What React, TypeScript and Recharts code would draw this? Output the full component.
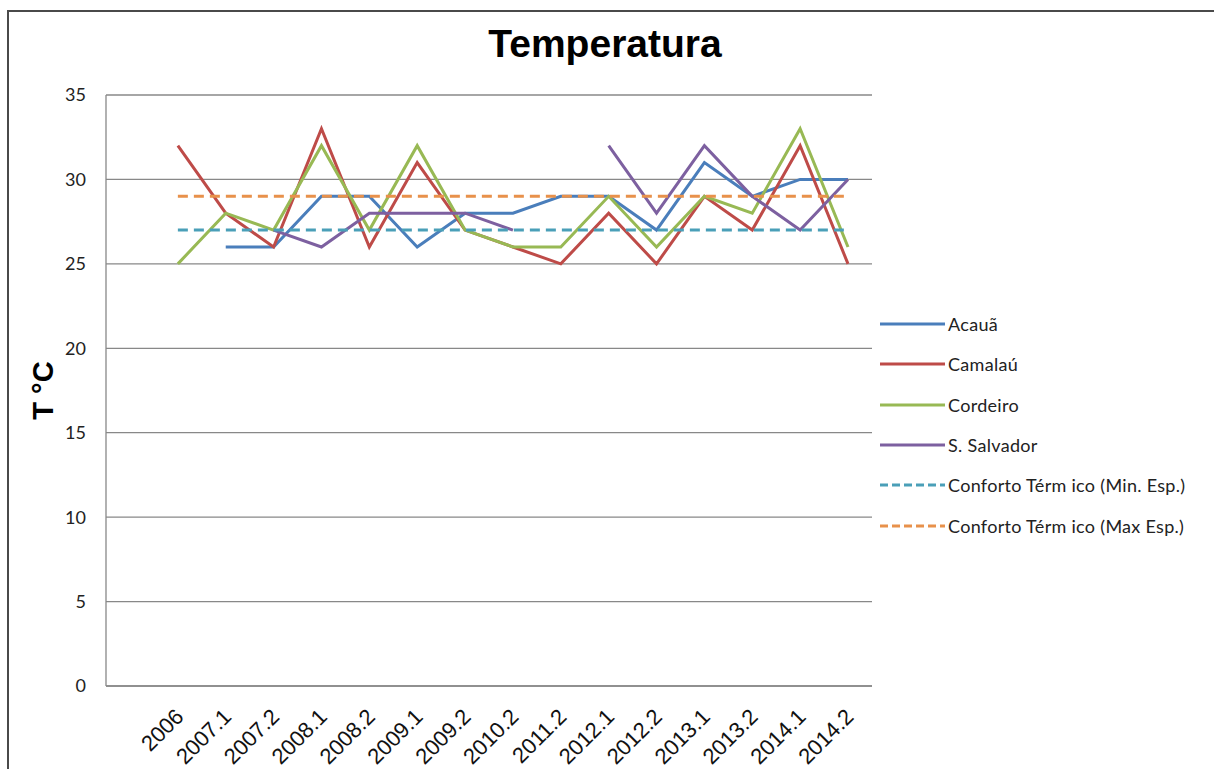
import { LineChart, Line, XAxis, YAxis, CartesianGrid } from 'recharts'

const categories = ['', '2006', '2007.1', '2007.2', '2008.1', '2008.2', '2009.1', '2009.2', '2010.2', '2011.2', '2012.1', '2012.2', '2013.1', '2013.2', '2014.1', '2014.2']
const acaua = [null, null, 26, 26, 29, 29, 26, 28, 28, 29, 29, 27, 31, 29, 30, 30]
const camalau = [null, 32, 28, 26, 33, 26, 31, 27, 26, 25, 28, 25, 29, 27, 32, 25]
const cordeiro = [null, 25, 28, 27, 32, 27, 32, 27, 26, 26, 29, 26, 29, 28, 33, 26]
const sSalvador = [null, null, null, 27, 26, 28, 28, 28, 27, null, 32, 28, 32, 29, 27, 30]
const confortoMin = [null, 27, 27, 27, 27, 27, 27, 27, 27, 27, 27, 27, 27, 27, 27, 27]
const confortoMax = [null, 29, 29, 29, 29, 29, 29, 29, 29, 29, 29, 29, 29, 29, 29, 29]
const yTicks = [0, 5, 10, 15, 20, 25, 30, 35]

const SERIES = [
  { key: 'acaua', name: 'Acauã', color: '#4A7EBB', dash: undefined },
  { key: 'camalau', name: 'Camalaú', color: '#BE4B48', dash: undefined },
  { key: 'cordeiro', name: 'Cordeiro', color: '#98B954', dash: undefined },
  { key: 'sSalvador', name: 'S. Salvador', color: '#7D60A0', dash: undefined },
  { key: 'confortoMin', name: 'Conforto Térm ico (Min. Esp.)', color: '#4A9FB8', dash: '10 6' },
  { key: 'confortoMax', name: 'Conforto Térm ico (Max Esp.)', color: '#E8914B', dash: '10 6' },
]

const data = categories.map((cat, i) => ({
  cat,
  acaua: acaua[i],
  camalau: camalau[i],
  cordeiro: cordeiro[i],
  sSalvador: sSalvador[i],
  confortoMin: confortoMin[i],
  confortoMax: confortoMax[i],
}))

const GRID = '#888888'

function XTick({ x, y, payload }: any) {
  const tx = x + 7
  const ty = y + 24
  return (
    <text
      x={tx}
      y={ty}
      transform={`rotate(-45, ${tx}, ${ty})`}
      textAnchor="end"
      fontFamily="'Liberation Sans', Arial, sans-serif"
      fontSize={22}
      fill="#111"
    >
      {payload.value}
    </text>
  )
}

function ChartLegend() {
  return (
    <div style={{ position: 'absolute', left: 878, top: 304, fontFamily: 'Lato, sans-serif', fontSize: 18, color: '#222' }}>
      {SERIES.map((s) => (
        <div key={s.key} style={{ display: 'flex', alignItems: 'center', height: 40.3 }}>
          <svg width={68} height={6} style={{ marginRight: 2 }}>
            <line x1={2} y1={3} x2={67} y2={3} stroke={s.color} strokeWidth={3} strokeDasharray={s.dash ? '8 4' : undefined} />
          </svg>
          <span style={{ letterSpacing: 0.3 }}>{s.name}</span>
        </div>
      ))}
    </div>
  )
}

export default function App() {
  return (
    <div style={{ position: 'absolute', left: 0, top: 0, width: 1214, height: 769, background: '#fff', overflow: 'hidden' }}>
      <div style={{ position: 'absolute', left: 7, top: 10, width: 1300, height: 900, border: '2px solid #4a4a4a' }} />
      <div
        style={{
          position: 'absolute',
          left: 0,
          width: 1214,
          top: 22,
          fontFamily: "'Liberation Sans', Arial, sans-serif",
          fontWeight: 'bold',
          fontSize: 39,
          color: '#000',
        }}
      >
        <span style={{ position: 'absolute', left: 605, transform: 'translateX(-50%)', whiteSpace: 'nowrap' }}>Temperatura</span>
      </div>
      <div style={{ position: 'absolute', left: 0, top: 0 }}>
        <LineChart width={1214} height={769} data={data} margin={{ top: 95, right: 342, left: 0, bottom: 23 }}>
          <CartesianGrid vertical={false} stroke={GRID} strokeWidth={1.3} />
          <XAxis
            dataKey="cat"
            interval={0}
            height={60}
            padding={{ left: 24, right: 24 }}
            tickLine={false}
            axisLine={{ stroke: GRID, strokeWidth: 1.3 }}
            tick={<XTick />}
          />
          <YAxis
            width={106}
            domain={[0, 35]}
            ticks={yTicks}
            tickLine={false}
            tickSize={0}
            tickMargin={20}
            axisLine={{ stroke: GRID, strokeWidth: 1.3 }}
            tick={{ fontFamily: 'Lato, sans-serif', fontSize: 18, fill: '#222' }}
            label={{
              value: 'T °C',
              angle: -90,
              position: 'insideLeft',
              dx: 38,
              style: { fontFamily: "'Liberation Sans', Arial, sans-serif", fontWeight: 'bold', fontSize: 29, fill: '#000', textAnchor: 'middle' },
            }}
          />
          {SERIES.map((s) => (
            <Line
              key={s.key}
              type="linear"
              dataKey={s.key}
              name={s.name}
              stroke={s.color}
              strokeWidth={3}
              strokeDasharray={s.dash}
              dot={false}
              activeDot={false}
              connectNulls={false}
              isAnimationActive={false}
            />
          ))}
        </LineChart>
      </div>
      <ChartLegend />
    </div>
  )
}
